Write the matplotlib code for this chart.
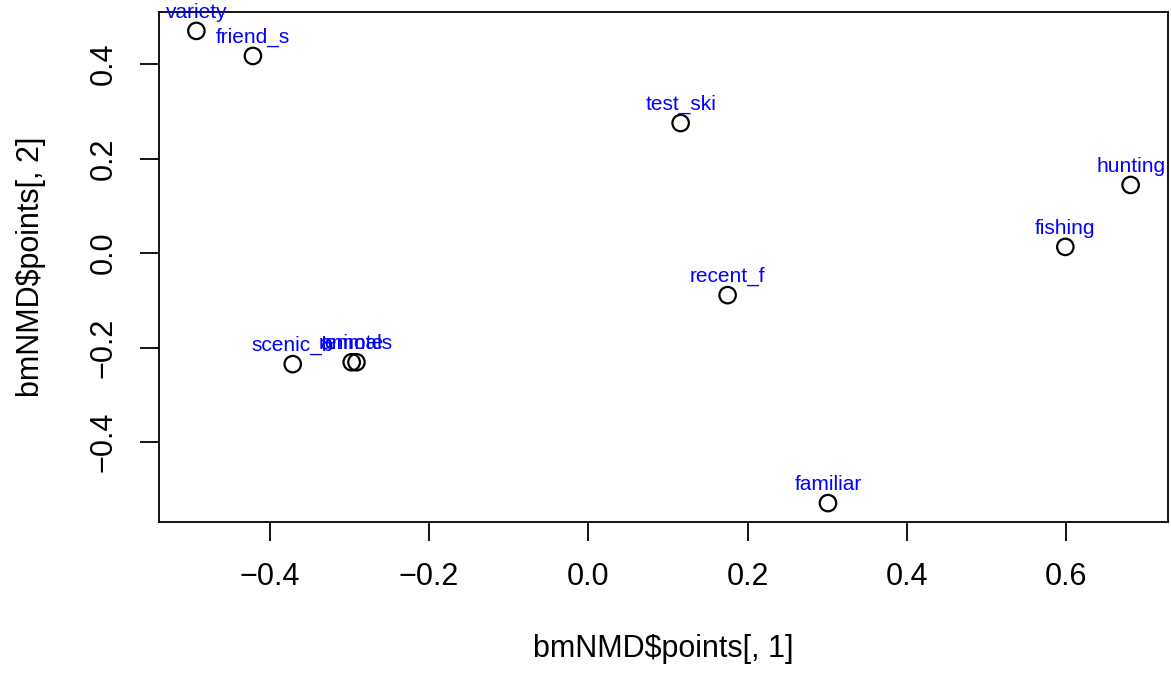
import matplotlib
matplotlib.use("Agg")
import matplotlib.pyplot as plt
import numpy as np

labels = ["variety", "friend_s", "test_ski", "hunting", "fishing", "recent_f",
          "scenic_b", "remote", "animals", "familiar"]
x_vals = [-0.492, -0.421, 0.116, 0.681, 0.599, 0.175, -0.371, -0.297, -0.291, 0.301]
y_vals = [0.470, 0.417, 0.275, 0.144, 0.013, -0.089, -0.235, -0.231, -0.231, -0.529]
x_ticks = [-0.4, -0.2, 0.0, 0.2, 0.4, 0.6]
y_ticks = [-0.4, -0.2, 0.0, 0.2, 0.4]

plt.rcParams['font.family'] = ['Liberation Sans', 'DejaVu Sans']

fig = plt.figure(figsize=(11.71, 6.75), dpi=100)
ax = fig.add_axes([159/1171, 1-522/675, (1168-159)/1171, (522-12)/675])

ax.scatter(x_vals, y_vals, s=140, facecolors='none', edgecolors='black', linewidths=1.6, zorder=3)
for lab, xv, yv in zip(labels, x_vals, y_vals):
    ax.annotate(lab, (xv, yv), xytext=(0, 9.5), textcoords='offset points',
                ha='center', va='baseline', color='#0000FF', fontsize=15, clip_on=False,
                annotation_clip=False)

xr = max(x_vals) - min(x_vals)
yr = max(y_vals) - min(y_vals)
ax.set_xlim(min(x_vals) - 0.04*xr, max(x_vals) + 0.04*xr)
ax.set_ylim(min(y_vals) - 0.04*yr, max(y_vals) + 0.04*yr)

def fmt(v):
    s = f"{v:.1f}"
    return s.replace("-", "\u2212")

ax.set_xticks(x_ticks)
ax.set_xticklabels([fmt(v) for v in x_ticks], fontsize=22)
ax.set_yticks(y_ticks)
ax.set_yticklabels([fmt(v) for v in y_ticks], fontsize=22, rotation=90, va='center')
ax.tick_params(direction='out', length=14, width=1.3, pad=15)
for sp in ax.spines.values():
    sp.set_linewidth(1.3)

ax.set_xlabel("bmNMD$points[, 1]", fontsize=22, labelpad=30)
ax.set_ylabel("bmNMD$points[, 2]", fontsize=22, labelpad=31)

fig.savefig("out.png", dpi=100)
